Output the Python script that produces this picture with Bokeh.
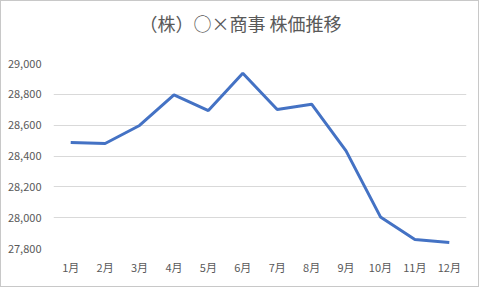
from bokeh.plotting import figure
from bokeh.models import Range1d, FactorRange, FixedTicker, NumeralTickFormatter, Title
from bokeh.embed import file_html
from bokeh.resources import INLINE

months = ["1月", "2月", "3月", "4月", "5月", "6月", "7月", "8月", "9月", "10月", "11月", "12月"]
prices = [28488, 28481, 28598, 28797, 28695, 28937, 28702, 28736, 28433, 28005, 27858, 27839]
y_ticks = [27800, 28000, 28200, 28400, 28600, 28800, 29000]
title_text = "（株）○×商事 株価推移"

FONT = "Noto Sans CJK JP"
GRAY = "#595959"

p = figure(width=479, height=287, x_range=FactorRange(*months, range_padding=0),
           y_range=Range1d(27800, 29000), output_backend="svg", toolbar_location=None,
           min_border_left=52, min_border_right=14, min_border_top=62, min_border_bottom=40,
           styles={"border": "1px solid #c8c8c8"})

# real title (a blank second line keeps it higher above the plot area)
t = Title(text=title_text + "\n ", align="left", text_font=FONT,
          text_font_size="18px", text_color=GRAY, text_font_style="normal",
          standoff=3, offset=86)
p.add_layout(t, "above")

p.line(months, prices, line_color="#4472C4", line_width=3)

p.outline_line_color = None
p.xgrid.grid_line_color = None
p.ygrid.grid_line_color = "#d9d9d9"
p.ygrid.grid_line_width = 1

p.yaxis.ticker = FixedTicker(ticks=y_ticks)
p.yaxis.formatter = NumeralTickFormatter(format="0,0")
for ax in (p.xaxis[0], p.yaxis[0]):
    ax.axis_line_color = None
    ax.major_tick_line_color = None
    ax.minor_tick_line_color = None
    ax.major_label_text_font = FONT
    ax.major_label_text_font_size = "11px"
    ax.major_label_text_color = GRAY
p.yaxis.major_label_standoff = 6
p.xaxis.major_label_standoff = 4

open("out.html", "w").write(file_html(p, INLINE))
